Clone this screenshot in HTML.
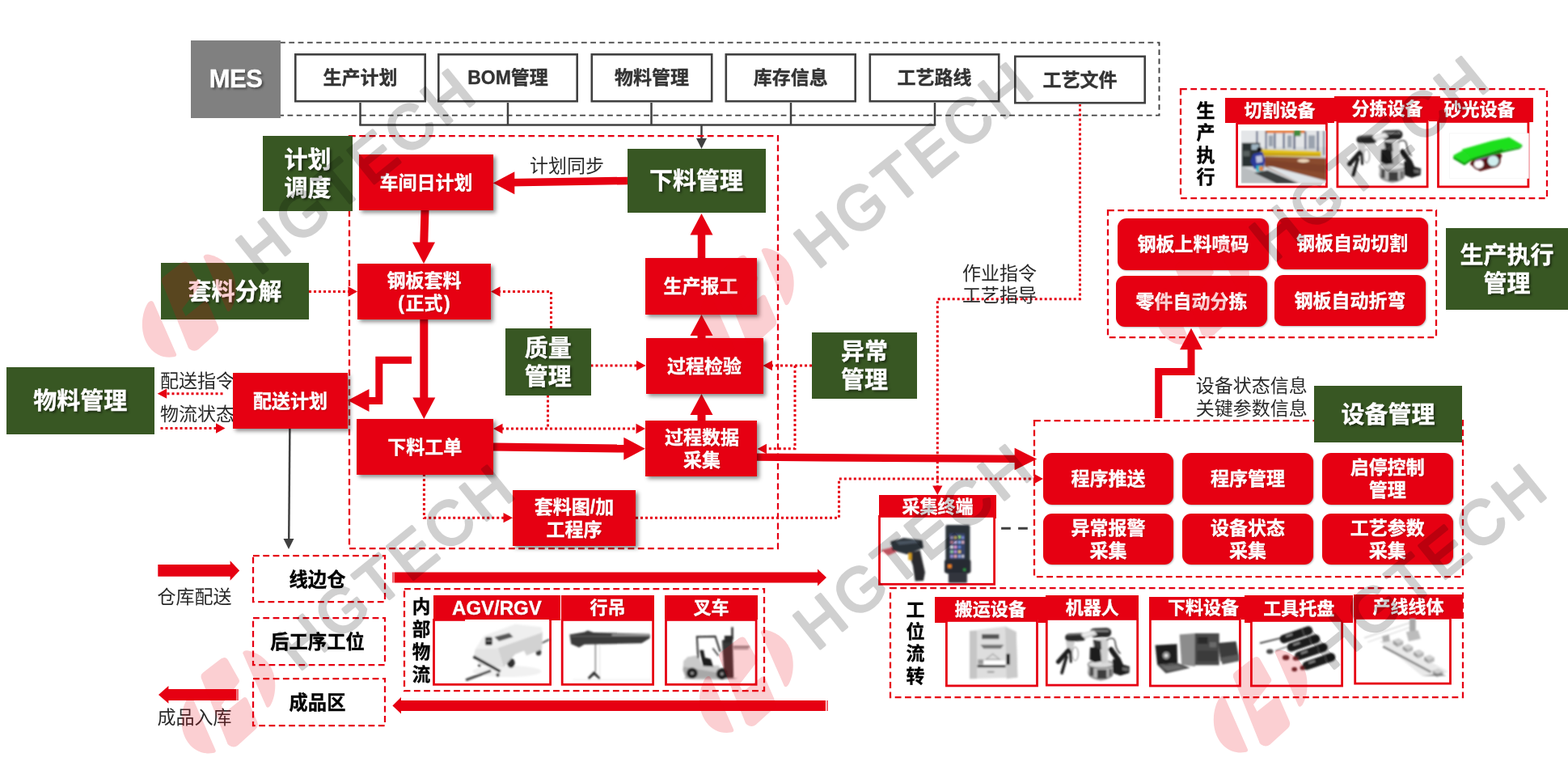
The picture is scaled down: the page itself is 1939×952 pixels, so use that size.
<!DOCTYPE html>
<html lang="zh-CN"><head><meta charset="utf-8"><title>MES 下料管理</title>
<style>
*{box-sizing:border-box;margin:0;padding:0}
html,body{width:1939px;height:952px;background:#fff;overflow:hidden}
body{font-family:"Liberation Sans","Noto Sans CJK SC",sans-serif;color:#333}
#stage{position:relative;width:1939px;height:952px;overflow:hidden;background:#fff}
.b span{display:block}
.b span span{display:inline}
.b,.v{-webkit-text-stroke:0.35px currentColor}
.b{position:absolute;display:flex;align-items:center;justify-content:center;text-align:center;font-weight:bold;white-space:nowrap}
.r{background:#E60012;color:#fff;font-size:23px;line-height:28px;box-shadow:3px 3px 5px rgba(0,0,0,.45);text-shadow:1px 1px 2px rgba(0,0,0,.22);padding-top:1px}
.rr{background:#E60012;color:#fff;font-size:23px;line-height:28px;border-radius:11px;box-shadow:1px 1px 2px rgba(0,0,0,.25);text-shadow:1px 1px 2px rgba(0,0,0,.22)}
.g{background:#385723;color:#fff;font-size:29px;line-height:35px;text-shadow:2px 2px 3px rgba(0,0,0,.55);padding-top:3px}
.w{background:#fff;color:#333;font-size:23px;padding-bottom:4px}
.d{color:#000;font-size:23.3px;background:transparent;padding:0 4px 2px 0}
.h{background:#E60012;color:#fff;font-size:22px;line-height:26px;padding-top:1px;text-shadow:1px 1px 2px rgba(0,0,0,.22)}
.f{position:absolute;background:#fff;overflow:hidden}
.t{position:absolute;white-space:nowrap;font-size:23px;line-height:27px;color:#2a2a2a}
.v{position:absolute;font-weight:bold;color:#000;font-size:23px;line-height:27px;text-align:center;width:24px}
svg{position:absolute;left:0;top:0}
</style></head>
<body><div id="stage">
<svg width="1939" height="952" viewBox="0 0 1939 952" style="z-index:1">
<rect x="346" y="52.6" width="1087.5" height="90.0" fill="none" stroke="#404040" stroke-width="1.9" stroke-dasharray="6.8 4.5"/>
<polyline points="445.5,125 445.5,154.5" fill="none" stroke="#404040" stroke-width="2.5" />
<polyline points="628,125 628,154.5" fill="none" stroke="#404040" stroke-width="2.5" />
<polyline points="805.5,125 805.5,154.5" fill="none" stroke="#404040" stroke-width="2.5" />
<polyline points="978,125 978,154.5" fill="none" stroke="#404040" stroke-width="2.5" />
<polyline points="1156,125 1156,154.5" fill="none" stroke="#404040" stroke-width="2.5" />
<polyline points="444.3,154.5 1157.2,154.5" fill="none" stroke="#404040" stroke-width="2.5" />
<polyline points="867.5,154.5 867.5,174" fill="none" stroke="#404040" stroke-width="2.5" />
<polygon points="867.5,184 861.0,171 874.0,171" fill="#404040"/>
<rect x="432" y="168" width="530" height="510" fill="none" stroke="#E60012" stroke-width="2.25" stroke-dasharray="7.8 4.5"/>
<polyline points="776,223.4 630,225.8" fill="none" stroke="#E60012" stroke-width="9.5" />
<polygon points="609.8,226.2 636.3,212.2 636.3,240.2" fill="#E60012"/>
<polyline points="525.5,259.5 524.2,302" fill="none" stroke="#E60012" stroke-width="10" />
<polygon points="524,326 510.0,299.5 538.0,299.5" fill="#E60012"/>
<polyline points="382,360.5 432,360.5" fill="none" stroke="#E60012" stroke-width="3" stroke-dasharray="3 3" />
<polygon points="442,360.5 430.5,354.35 430.5,366.65" fill="#E60012"/>
<polyline points="867.5,319 867.5,288" fill="none" stroke="#E60012" stroke-width="9.5" />
<polygon points="867.5,264 853.5,290.5 881.5,290.5" fill="#E60012"/>
<polygon points="867.5,389 853.5,415 881.5,415" fill="#E60012"/>
<polyline points="867.5,414 867.5,419" fill="none" stroke="#E60012" stroke-width="10" />
<polygon points="867.5,487 853.5,513 881.5,513" fill="#E60012"/>
<polyline points="867.5,512 867.5,521" fill="none" stroke="#E60012" stroke-width="10" />
<polyline points="681.5,406 681.5,360.5 617,360.5" fill="none" stroke="#E60012" stroke-width="3" stroke-dasharray="3 3" />
<polygon points="607,360.5 618.5,354.35 618.5,366.65" fill="#E60012"/>
<polyline points="730.5,452 788,452" fill="none" stroke="#E60012" stroke-width="3" stroke-dasharray="3 3" />
<polygon points="798.5,452 787.0,445.85 787.0,458.15" fill="#E60012"/>
<polyline points="1004,452 954,452" fill="none" stroke="#E60012" stroke-width="3" stroke-dasharray="3 3" />
<polygon points="943.5,452 955.0,445.85 955.0,458.15" fill="#E60012"/>
<polyline points="983,452 983,554.8 947,554.8" fill="none" stroke="#E60012" stroke-width="3" stroke-dasharray="3 3" />
<polygon points="936.5,555 948.0,548.85 948.0,561.15" fill="#E60012"/>
<polyline points="1335.5,128.5 1335.5,369.7 1159.3,369.7 1159.3,601" fill="none" stroke="#E60012" stroke-width="3" stroke-dasharray="3 3" />
<polygon points="1159.3,612 1153.15,600.5 1165.45,600.5" fill="#E60012"/>
<polyline points="275.5,486.7 205,486.7" fill="none" stroke="#E60012" stroke-width="3" stroke-dasharray="3 3" />
<polygon points="194.7,486.7 206.2,480.55 206.2,492.85" fill="#E60012"/>
<polyline points="198.5,529.5 268,529.5" fill="none" stroke="#E60012" stroke-width="3" stroke-dasharray="3 3" />
<polygon points="278.5,529.5 267.0,523.35 267.0,535.65" fill="#E60012"/>
<polyline points="509,445.3 468.8,445.3 468.8,495.5 455,495.5" fill="none" stroke="#E60012" stroke-width="9" />
<polygon points="430,495 456.5,481.0 456.5,509.0" fill="#E60012"/>
<polyline points="524.3,394.5 524.3,494" fill="none" stroke="#E60012" stroke-width="10" />
<polygon points="524.3,518 510.3,491.5 538.3,491.5" fill="#E60012"/>
<polyline points="610,552.5 775,554.6" fill="none" stroke="#E60012" stroke-width="10" />
<polygon points="797.8,554.8 771.3,540.8 771.3,568.8" fill="#E60012"/>
<polyline points="524.4,586 524.4,640.2 623,640.2" fill="none" stroke="#E60012" stroke-width="3" stroke-dasharray="3 3" />
<polygon points="634,640.2 622.5,634.05 622.5,646.35" fill="#E60012"/>
<polyline points="786,640.2 1037.5,640.2 1037.5,592 1279,592" fill="none" stroke="#E60012" stroke-width="3" stroke-dasharray="3 3" />
<polygon points="1290,592 1278.5,585.85 1278.5,598.15" fill="#E60012"/>
<polyline points="620,530 787,530" fill="none" stroke="#E60012" stroke-width="3" stroke-dasharray="3 3" />
<polygon points="610,530 621.5,523.85 621.5,536.15" fill="#E60012"/>
<polygon points="798,530 786.5,523.85 786.5,536.15" fill="#E60012"/>
<polyline points="677.5,488.5 677.5,530" fill="none" stroke="#E60012" stroke-width="3" stroke-dasharray="3 3" />
<polyline points="935,565.2 1258,567.4" fill="none" stroke="#E60012" stroke-width="9.3" />
<polygon points="1282.2,567.5 1254.6,553.7 1254.6,581.3" fill="#E60012"/>
<polyline points="358.4,529.5 357.2,668" fill="none" stroke="#404040" stroke-width="2.5" />
<polygon points="357,679 350.5,666 363.5,666" fill="#404040"/>
<rect x="313" y="687" width="163" height="57" fill="none" stroke="#E60012" stroke-width="2.25" stroke-dasharray="7.8 4.5"/>
<rect x="313" y="764" width="163" height="58" fill="none" stroke="#E60012" stroke-width="2.25" stroke-dasharray="7.8 4.5"/>
<rect x="313" y="839" width="163" height="58" fill="none" stroke="#E60012" stroke-width="2.25" stroke-dasharray="7.8 4.5"/>
<polygon points="195.3,698 284.6,698 284.6,693.2 296.2,705.4 284.6,717.7 284.6,712.7 195.3,712.7" fill="#E60012"/>
<polygon points="292.5,852 208.4,852 208.4,848 196,859 208.4,869.8 208.4,866 292.5,866" fill="#E60012"/>
<polyline points="294,852 294,866" fill="none" stroke="#E60012" stroke-width="1.2" />
<polygon points="487.5,707.4 1011,707.4 1011,703.5 1022,714 1011,724.5 1011,720.6 487.5,720.6" fill="#E60012"/>
<polyline points="486,707.4 486,720.6" fill="none" stroke="#E60012" stroke-width="1.2" />
<polygon points="1021,866 496,866 496,862 485.4,872.5 496,882.5 496,879 1021,879" fill="#E60012"/>
<polyline points="1023,866 1023,879" fill="none" stroke="#E60012" stroke-width="1.2" />
<rect x="500" y="728" width="445" height="126" fill="none" stroke="#E60012" stroke-width="2.25" stroke-dasharray="7.8 4.5"/>
<polyline points="1238.1,653.2 1271,653.2" fill="none" stroke="#404040" stroke-width="3" stroke-dasharray="11.7 9.3" />
<rect x="1279" y="520" width="530" height="193" fill="none" stroke="#E60012" stroke-width="2.25" stroke-dasharray="7.8 4.5"/>
<polyline points="1432.7,517 1432.7,459.6 1473,459.6 1473,428" fill="none" stroke="#E60012" stroke-width="9" />
<polygon points="1473,405.7 1459.0,432.2 1487.0,432.2" fill="#E60012"/>
<rect x="1370" y="260" width="406" height="157" fill="none" stroke="#E60012" stroke-width="2.25" stroke-dasharray="7.8 4.5"/>
<rect x="1460" y="110" width="453" height="135" fill="none" stroke="#E60012" stroke-width="2.25" stroke-dasharray="7.8 4.5"/>
<rect x="1101" y="727" width="708" height="135" fill="none" stroke="#E60012" stroke-width="2.25" stroke-dasharray="7.8 4.5"/>
</svg>
<div style="position:absolute;left:0;top:0;z-index:2;width:1939px;height:952px;will-change:transform">
<div class="b b" style="left:236px;top:50px;width:111px;height:95.5px;background:#808080;color:#fff;font-size:31px;letter-spacing:-0.5px;text-shadow:2px 2px 3px rgba(0,0,0,.5)"><span>MES</span></div>
<div class="b w" style="left:364px;top:66px;width:163px;height:60.5px;"><span>生产计划</span></div>
<div class="b w" style="left:541px;top:66px;width:174px;height:60.5px;"><span>BOM管理</span></div>
<div class="b w" style="left:730.5px;top:66px;width:151.0px;height:60.5px;"><span>物料管理</span></div>
<div class="b w" style="left:896.5px;top:66px;width:162.5px;height:60.5px;"><span>库存信息</span></div>
<div class="b w" style="left:1074.5px;top:66px;width:162.0px;height:60.5px;"><span>工艺路线</span></div>
<div class="b w" style="left:1254px;top:68.5px;width:163px;height:60.0px;"><span>工艺文件</span></div>
<div class="b g" style="left:325px;top:168px;width:111px;height:92.7px;"><span>计划<br>调度</span></div>
<div class="b r" style="left:444px;top:191px;width:166px;height:68.5px;"><span>车间日计划</span></div>
<div class="b g" style="left:775.5px;top:184px;width:171.0px;height:78.6px;"><span>下料管理</span></div>
<div class="t" style="left:655px;top:192px;">计划同步</div>
<div class="b r" style="left:442px;top:326px;width:165px;height:68.5px;"><span>钢板套料<br>(<span style="margin:0 1.5px">正式</span>)</span></div>
<div class="b g" style="left:199px;top:325px;width:183px;height:69.5px;"><span>套料分解</span></div>
<div class="b r" style="left:797.5px;top:319px;width:138.0px;height:69.7px;"><span>生产报工</span></div>
<div class="b r" style="left:798.5px;top:418px;width:145.0px;height:69px;"><span>过程检验</span></div>
<div class="b g" style="left:625px;top:406px;width:105.5px;height:82.5px;"><span>质量<br>管理</span></div>
<div class="b g" style="left:1004px;top:411px;width:130px;height:81.5px;"><span>异常<br>管理</span></div>
<div class="t" style="left:1190px;top:325px;">作业指令<br>工艺指导</div>
<div class="b g" style="left:8px;top:454px;width:182.5px;height:82.5px;"><span>物料管理</span></div>
<div class="t" style="left:198px;top:457.5px;">配送指令</div>
<div class="t" style="left:198px;top:498.5px;">物流状态</div>
<div class="b r" style="left:288px;top:461px;width:142px;height:68.5px;"><span>配送计划</span></div>
<div class="b r" style="left:440.6px;top:517.8px;width:169.4px;height:68.8px;"><span>下料工单</span></div>
<div class="b r" style="left:798px;top:520.2px;width:138px;height:68.4px;padding-left:2px"><span>过程数据<br>采集</span></div>
<div class="b r" style="left:634px;top:606px;width:152px;height:69px;"><span>套料图/加<br>工程序</span></div>
<div class="b d" style="left:313px;top:687px;width:163px;height:57px;"><span>线边仓</span></div>
<div class="b d" style="left:313px;top:764px;width:163px;height:58px;"><span>后工序工位</span></div>
<div class="b d" style="left:313px;top:839px;width:163px;height:58px;"><span>成品区</span></div>
<div class="t" style="left:194.5px;top:725.3px;">仓库配送</div>
<div class="t" style="left:194.5px;top:874.3px;">成品入库</div>
<div class="v" style="left:509px;top:737.2px;line-height:28.1px;font-size:22.5px">内<br>部<br>物<br>流</div>
<div class="b h" style="left:535.9px;top:735.6px;width:157.1px;height:31.7px;font-size:24px"><span>AGV/RGV</span></div>
<div class="b h" style="left:693.8px;top:735.6px;width:115.2px;height:30.9px;"><span>行吊</span></div>
<div class="b h" style="left:822.1px;top:735.6px;width:114.9px;height:30.9px;"><span>叉车</span></div>
<div class="f" style="left:535.1px;top:765px;width:146.9px;height:82.7px"></div>
<div class="f" style="left:693.8px;top:765px;width:115.2px;height:82.7px"></div>
<div class="f" style="left:822.1px;top:765px;width:114.4px;height:82.7px"></div>
<div class="b h" style="left:1087.1px;top:612.1px;width:144.9px;height:29.3px;"><span>采集终端</span></div>
<div class="f" style="left:1086.1px;top:637px;width:144.9px;height:86.7px"></div>
<div class="b g" style="left:1625px;top:477px;width:183px;height:69.5px;"><span>设备管理</span></div>
<div class="t" style="left:1478.7px;top:462.6px;line-height:28.4px">设备状态信息<br>关键参数信息</div>
<div class="b rr" style="left:1290px;top:560px;width:161px;height:64px;"><span>程序推送</span></div>
<div class="b rr" style="left:1462px;top:560px;width:162px;height:64px;"><span>程序管理</span></div>
<div class="b rr" style="left:1635px;top:560px;width:161.5px;height:64px;"><span>启停控制<br>管理</span></div>
<div class="b rr" style="left:1290px;top:635px;width:161px;height:63px;"><span>异常报警<br>采集</span></div>
<div class="b rr" style="left:1462px;top:635px;width:162px;height:63px;"><span>设备状态<br>采集</span></div>
<div class="b rr" style="left:1635px;top:635px;width:161.5px;height:63px;"><span>工艺参数<br>采集</span></div>
<div class="b rr" style="left:1382px;top:270px;width:187px;height:63.5px;"><span>钢板上料喷码</span></div>
<div class="b rr" style="left:1578.5px;top:269px;width:187.0px;height:63.5px;"><span>钢板自动切割</span></div>
<div class="b rr" style="left:1380px;top:341px;width:187px;height:63px;"><span>零件自动分拣</span></div>
<div class="b rr" style="left:1576px;top:340px;width:187px;height:63px;"><span>钢板自动折弯</span></div>
<div class="b g" style="left:1788px;top:282px;width:151px;height:100.5px;"><span>生产执行<br>管理</span></div>
<div class="v" style="left:1479px;top:123.7px;line-height:27.6px">生<br>产<br>执<br>行</div>
<div class="b h" style="left:1515px;top:121.2px;width:135px;height:31.1px;"><span>切割设备</span></div>
<div class="b h" style="left:1650px;top:119px;width:131px;height:31px;"><span>分拣设备</span></div>
<div class="b h" style="left:1781px;top:120.9px;width:115px;height:29.7px;padding-right:18px"><span>砂光设备</span></div>
<div class="f" style="left:1528.2px;top:151px;width:113.6px;height:81.3px"></div>
<div class="f" style="left:1652.5px;top:149px;width:114.0px;height:83.3px"></div>
<div class="f" style="left:1777.1px;top:149px;width:114.2px;height:83.3px"></div>
<div class="v" style="left:1120px;top:740.5px;line-height:27.4px">工<br>位<br>流<br>转</div>
<div class="b h" style="left:1156.3px;top:737.9px;width:137.0px;height:32.0px;"><span>搬运设备</span></div>
<div class="b h" style="left:1293.3px;top:735.8px;width:114.8px;height:31.0px;"><span>机器人</span></div>
<div class="b h" style="left:1421px;top:738px;width:118px;height:27.5px;padding-left:16px"><span>下料设备</span></div>
<div class="b h" style="left:1539px;top:735.9px;width:134.3px;height:33.8px;"><span>工具托盘</span></div>
<div class="b h" style="left:1674.3px;top:734.8px;width:134.3px;height:30.7px;"><span>产线线体</span></div>
<div class="f" style="left:1169px;top:766px;width:114.9px;height:83.3px"></div>
<div class="f" style="left:1292.9px;top:764px;width:115.2px;height:84.5px"></div>
<div class="f" style="left:1421px;top:764px;width:113.8px;height:85.4px"></div>
<div class="f" style="left:1546px;top:766px;width:115px;height:83.4px"></div>
<div class="f" style="left:1674.3px;top:763px;width:120.6px;height:83.5px"></div>
</div>
<svg width="1939" height="952" viewBox="0 0 1939 952" style="z-index:3">
<defs><filter id="bl" filterUnits="userSpaceOnUse" x="0" y="0" width="1939" height="952"><feGaussianBlur stdDeviation="0.8"/></filter></defs>
<rect x="365.3" y="67.3" width="160.4" height="57.9" fill="none" stroke="#404040" stroke-width="2.6"/>
<rect x="542.3" y="67.3" width="171.4" height="57.9" fill="none" stroke="#404040" stroke-width="2.6"/>
<rect x="731.8" y="67.3" width="148.4" height="57.9" fill="none" stroke="#404040" stroke-width="2.6"/>
<rect x="897.8" y="67.3" width="159.9" height="57.9" fill="none" stroke="#404040" stroke-width="2.6"/>
<rect x="1075.8" y="67.3" width="159.4" height="57.9" fill="none" stroke="#404040" stroke-width="2.6"/>
<rect x="1255.3" y="69.8" width="160.4" height="57.4" fill="none" stroke="#404040" stroke-width="2.6"/>
<rect x="536.5" y="766.4" width="144.1" height="79.9" fill="none" stroke="#E60012" stroke-width="2.8"/>
<rect x="695.1999999999999" y="766.4" width="112.4" height="79.9" fill="none" stroke="#E60012" stroke-width="2.8"/>
<rect x="823.5" y="766.4" width="111.6" height="79.9" fill="none" stroke="#E60012" stroke-width="2.8"/>
<rect x="1087.5" y="638.4" width="142.1" height="83.9" fill="none" stroke="#E60012" stroke-width="2.8"/>
<rect x="1529.6000000000001" y="152.4" width="110.8" height="78.5" fill="none" stroke="#E60012" stroke-width="2.8"/>
<rect x="1653.9" y="150.4" width="111.2" height="80.5" fill="none" stroke="#E60012" stroke-width="2.8"/>
<rect x="1778.5" y="150.4" width="111.4" height="80.5" fill="none" stroke="#E60012" stroke-width="2.8"/>
<rect x="1170.4" y="767.4" width="112.1" height="80.5" fill="none" stroke="#E60012" stroke-width="2.8"/>
<rect x="1294.3000000000002" y="765.4" width="112.4" height="81.7" fill="none" stroke="#E60012" stroke-width="2.8"/>
<rect x="1422.4" y="765.4" width="111.0" height="82.6" fill="none" stroke="#E60012" stroke-width="2.8"/>
<rect x="1547.4" y="767.4" width="112.2" height="80.6" fill="none" stroke="#E60012" stroke-width="2.8"/>
<rect x="1675.7" y="764.4" width="117.8" height="80.7" fill="none" stroke="#E60012" stroke-width="2.8"/>
<g filter="url(#bl)"><g transform="translate(1660,150) scale(0.08929)">
<path d="M510,610 L510,740 Q520,830 690,850 Q860,830 870,740 L870,610 Z" fill="#b9b9b9"/>
<path d="M510,700 Q520,800 690,815 Q860,800 870,700 L870,740 Q860,830 690,850 Q520,830 510,740Z" fill="#9a9a9a"/>
<rect x="535" y="665" width="55" height="120" fill="#4c4c4c"/><rect x="640" y="700" width="130" height="125" fill="#3e3e3e"/><rect x="800" y="690" width="45" height="100" fill="#6a6a6a"/>
<ellipse cx="690" cy="610" rx="180" ry="52" fill="#dcdcdc"/>
<ellipse cx="690" cy="628" rx="180" ry="52" fill="none" stroke="#707070" stroke-width="12"/>
<polygon points="575,300 700,255 795,275 790,600 690,625 575,600" fill="#e4e4e4"/>
<polygon points="690,280 790,275 780,600 700,620" fill="#cfcfcf"/>
<polygon points="540,395 680,365 700,585 600,600 535,560" fill="#1a1a1a"/>
<polygon points="580,285 690,300 700,420 600,385" fill="#353535"/>
<path d="M600,190 L770,185" stroke="#2a2a2a" stroke-width="130" stroke-linecap="round" fill="none"/>
<path d="M250,255 L430,245" stroke="#2c2c2c" stroke-width="110" stroke-linecap="round" fill="none"/>
<polygon points="400,200 600,150 640,215 470,275" fill="#d6d6d6"/>
<polygon points="420,215 600,170 610,190 440,240" fill="#f0f0f0"/>
<path d="M600,165 L790,165" stroke="#8c8c8c" stroke-width="22" stroke-linecap="round" fill="none"/>
<path d="M230,215 L420,205" stroke="#7a7a7a" stroke-width="18" stroke-linecap="round" fill="none"/>
<polygon points="205,300 330,310 300,430 225,430" fill="#cdcdcd"/>
<path d="M240,430 L100,590" stroke="#1a1a1a" stroke-width="60" stroke-linecap="round" fill="none"/>
<path d="M215,520 L150,745" stroke="#1a1a1a" stroke-width="42" stroke-linecap="round" fill="none"/>
<path d="M265,440 L275,590" stroke="#222" stroke-width="34" stroke-linecap="round" fill="none"/>
<ellipse cx="335" cy="480" rx="42" ry="95" fill="none" stroke="#7a7a7a" stroke-width="11"/>
<path d="M770,290 Q880,220 892,340 Q900,420 960,480" fill="none" stroke="#2a2a2a" stroke-width="16"/>
<path d="M830,420 L930,560" stroke="#1c1c1c" stroke-width="70" stroke-linecap="round" fill="none"/>
<polygon points="850,560 960,540 1000,630 1088,655 1082,745 960,782 858,745" fill="#1a1a1a"/>
<polygon points="985,665 1072,675 1062,722 992,712" fill="#6a6a6a"/>
</g></g>
<g filter="url(#bl)"><g transform="translate(-360.30,615.50)"><g transform="translate(1660,150) scale(0.08929)">
<path d="M510,610 L510,740 Q520,830 690,850 Q860,830 870,740 L870,610 Z" fill="#b9b9b9"/>
<path d="M510,700 Q520,800 690,815 Q860,800 870,700 L870,740 Q860,830 690,850 Q520,830 510,740Z" fill="#9a9a9a"/>
<rect x="535" y="665" width="55" height="120" fill="#4c4c4c"/><rect x="640" y="700" width="130" height="125" fill="#3e3e3e"/><rect x="800" y="690" width="45" height="100" fill="#6a6a6a"/>
<ellipse cx="690" cy="610" rx="180" ry="52" fill="#dcdcdc"/>
<ellipse cx="690" cy="628" rx="180" ry="52" fill="none" stroke="#707070" stroke-width="12"/>
<polygon points="575,300 700,255 795,275 790,600 690,625 575,600" fill="#e4e4e4"/>
<polygon points="690,280 790,275 780,600 700,620" fill="#cfcfcf"/>
<polygon points="540,395 680,365 700,585 600,600 535,560" fill="#1a1a1a"/>
<polygon points="580,285 690,300 700,420 600,385" fill="#353535"/>
<path d="M600,190 L770,185" stroke="#2a2a2a" stroke-width="130" stroke-linecap="round" fill="none"/>
<path d="M250,255 L430,245" stroke="#2c2c2c" stroke-width="110" stroke-linecap="round" fill="none"/>
<polygon points="400,200 600,150 640,215 470,275" fill="#d6d6d6"/>
<polygon points="420,215 600,170 610,190 440,240" fill="#f0f0f0"/>
<path d="M600,165 L790,165" stroke="#8c8c8c" stroke-width="22" stroke-linecap="round" fill="none"/>
<path d="M230,215 L420,205" stroke="#7a7a7a" stroke-width="18" stroke-linecap="round" fill="none"/>
<polygon points="205,300 330,310 300,430 225,430" fill="#cdcdcd"/>
<path d="M240,430 L100,590" stroke="#1a1a1a" stroke-width="60" stroke-linecap="round" fill="none"/>
<path d="M215,520 L150,745" stroke="#1a1a1a" stroke-width="42" stroke-linecap="round" fill="none"/>
<path d="M265,440 L275,590" stroke="#222" stroke-width="34" stroke-linecap="round" fill="none"/>
<ellipse cx="335" cy="480" rx="42" ry="95" fill="none" stroke="#7a7a7a" stroke-width="11"/>
<path d="M770,290 Q880,220 892,340 Q900,420 960,480" fill="none" stroke="#2a2a2a" stroke-width="16"/>
<path d="M830,420 L930,560" stroke="#1c1c1c" stroke-width="70" stroke-linecap="round" fill="none"/>
<polygon points="850,560 960,540 1000,630 1088,655 1082,745 960,782 858,745" fill="#1a1a1a"/>
<polygon points="985,665 1072,675 1062,722 992,712" fill="#6a6a6a"/>
</g></g></g>
<g><g transform="translate(1770,110) scale(0.13661)"><rect x="165" y="402" width="716" height="408" fill="#fff" stroke="#f3f3f3" stroke-width="5"/></g></g>
<g filter="url(#bl)"><g transform="translate(1770,110) scale(0.13661)">
<polygon points="380,620 600,560 640,600 600,700 440,745 350,680" fill="#5a1414"/>
<ellipse cx="560" cy="650" rx="50" ry="48" fill="#cfeeee"/>
<ellipse cx="560" cy="650" rx="60" ry="55" fill="none" stroke="#4a1010" stroke-width="14"/>
<ellipse cx="430" cy="680" rx="50" ry="45" fill="#fff" stroke="#5a1414" stroke-width="14"/>
<polygon points="390,625 600,560 615,585 410,655" fill="#a23aa8"/>
<polygon points="200,600 285,555 375,622 300,690 200,632" fill="#21de21"/>
<polygon points="200,632 300,690 375,640 375,622 300,672 200,615" fill="#0c8c0c"/>
<polygon points="275,548 545,470 705,438 822,505 800,528 650,558 640,540 365,632" fill="#1fe01f"/>
<polygon points="365,632 640,540 650,558 800,528 822,505 822,520 800,542 650,574 375,650" fill="#0d930d"/>
</g></g>
<g><g transform="translate(495,725) scale(0.14184)"><rect x="565" y="289" width="733" height="20" fill="#fff"/></g></g>
<g filter="url(#bl)"><g transform="translate(495,725) scale(0.14184)">
<line x1="1225" y1="498" x2="1300" y2="462" stroke="#484848" stroke-width="14"/>
<ellipse cx="930" cy="740" rx="300" ry="50" fill="#f1f1f1"/>
<line x1="572" y1="816" x2="790" y2="735" stroke="#484848" stroke-width="24"/>
<ellipse cx="965" cy="668" rx="34" ry="42" fill="#2e2e2e"/><ellipse cx="1205" cy="572" rx="24" ry="30" fill="#3c3c3c"/><ellipse cx="850" cy="772" rx="16" ry="16" fill="#444"/><ellipse cx="690" cy="690" rx="14" ry="14" fill="#444"/>
<polygon points="850,535 1240,400 1235,548 1100,602 1080,560 1000,592 960,640 900,705" fill="#d2d2d2"/>
<polygon points="655,545 850,535 900,705 700,690 640,612" fill="#e3e3e3"/>
<polygon points="730,430 1000,330 1230,355 1240,400 850,535 655,545" fill="#efefef"/>
<polygon points="820,440 950,405 985,440 860,478" fill="#585858"/>
<line x1="638" y1="612" x2="872" y2="742" stroke="#262626" stroke-width="24"/>
<rect x="740" y="442" width="62" height="70" rx="12" fill="#202020"/>
<rect x="745" y="468" width="52" height="12" fill="#8a8a8a"/>
</g></g>
<g filter="url(#bl)"><g transform="translate(680,725) scale(0.14184)">
<polygon points="172,420 300,398 330,385 380,402 870,414 872,452 800,496 300,506 255,532 185,502" fill="#3a3a3a"/>
<rect x="540" y="418" width="325" height="12" fill="#a8a8a8"/>
<rect x="180" y="430" width="690" height="10" fill="#5c5c5c"/>
<line x1="397" y1="500" x2="397" y2="745" stroke="#4a4a4a" stroke-width="7"/>
<line x1="435" y1="500" x2="435" y2="805" stroke="#b4b4b4" stroke-width="3"/>
<polygon points="330,795 385,738 438,795 432,812 385,772 342,812" fill="#333"/>
<line x1="200" y1="813" x2="885" y2="813" stroke="#d0d0d0" stroke-width="3"/>
</g></g>
<g filter="url(#bl)"><g transform="translate(680,725) scale(0.14184)">
<ellipse cx="1400" cy="802" rx="235" ry="12" fill="#c4c4c4"/>
<polygon points="1165,650 1200,615 1295,600 1330,690 1475,690 1505,800 1185,800 1160,720" fill="#cacaca"/>
<polygon points="1165,700 1505,760 1505,800 1185,800 1160,730" fill="#a8a8a8"/>
<polyline points="1292,625 1282,440 1442,436 1485,570" fill="none" stroke="#303030" stroke-width="15"/>
<polygon points="1305,555 1340,555 1352,620 1402,632 1425,700 1335,692" fill="#1e1e1e"/>
<line x1="1420" y1="540" x2="1470" y2="605" stroke="#222" stroke-width="11"/>
<polygon points="1500,470 1592,440 1602,800 1522,800" fill="#383838"/>
<rect x="1580" y="355" width="20" height="110" fill="#404040"/>
<rect x="1522" y="430" width="70" height="60" fill="#2a2a2a"/>
<rect x="1600" y="520" width="140" height="12" fill="#555"/><rect x="1600" y="540" width="130" height="9" fill="#7c7c7c"/>
<circle cx="1240" cy="756" r="48" fill="#222"/><circle cx="1240" cy="756" r="13" fill="#999"/>
<circle cx="1500" cy="762" r="50" fill="#222"/><circle cx="1500" cy="762" r="13" fill="#999"/>
</g></g>
<g filter="url(#bl)"><g transform="translate(1075,600) scale(0.14184)">
<polygon points="100,565 250,528 268,565 165,612" fill="#e84a5c" opacity=".85"/>
<polygon points="185,490 300,458 460,480 472,545 330,602 200,566" fill="#2c3137"/>
<polygon points="230,490 400,478 440,500 260,520" fill="#4a5560"/>
<polygon points="340,590 442,565 486,760 472,832 400,836 380,700" fill="#292b2d"/>
<rect x="340" y="590" width="30" height="62" fill="#d8a020"/>
<rect x="665" y="345" width="212" height="425" rx="16" fill="#2b3037"/>
<rect x="690" y="750" width="162" height="102" rx="8" fill="#30353c"/>
<rect x="655" y="650" width="230" height="112" rx="12" fill="#262a30"/>
<rect x="698" y="420" width="134" height="222" fill="#39456a"/>
<g fill="#c8b8e8"><rect x="708" y="445" width="22" height="22"/><rect x="740" y="445" width="22" height="22" fill="#e8d06a"/><rect x="775" y="440" width="22" height="22" fill="#a0e070"/><rect x="806" y="445" width="18" height="22" fill="#8a9ae8"/>
<rect x="708" y="485" width="22" height="22" fill="#f0a0b0"/><rect x="740" y="485" width="22" height="22"/><rect x="775" y="485" width="22" height="22" fill="#8ab0f0"/><rect x="806" y="485" width="18" height="22" fill="#f0c0d0"/>
<rect x="708" y="527" width="22" height="22" fill="#f4f4f4"/><rect x="740" y="527" width="22" height="22" fill="#e8a0e0"/><rect x="775" y="527" width="22" height="22" fill="#6a8ae0"/>
<rect x="708" y="568" width="22" height="22" fill="#a0e0b0"/><rect x="740" y="568" width="22" height="22" fill="#c090f0"/><rect x="775" y="568" width="22" height="22" fill="#f0d080"/>
<rect x="708" y="608" width="22" height="22" fill="#b0a0f0"/><rect x="740" y="608" width="22" height="22" fill="#f0b0c0"/><rect x="775" y="608" width="22" height="22" fill="#9ab0f0"/><rect x="806" y="608" width="18" height="22" fill="#e0e0f0"/></g>
<rect x="685" y="690" width="32" height="32" fill="#f08424"/><rect x="820" y="726" width="20" height="20" fill="#2fa044"/>
</g></g>
<g filter="url(#bl)"><g transform="translate(1095,720) scale(0.17018)">
<polygon points="612,352 870,320 950,360 960,690 612,700" fill="#dedede"/>
<polygon points="870,320 950,360 960,690 880,700" fill="#cbcbcb"/>
<rect x="612" y="352" width="52" height="348" fill="#c6c6c6"/>
<rect x="700" y="376" width="126" height="36" fill="#555"/>
<polygon points="690,452 860,452 838,482 712,482" fill="#767676"/>
<polygon points="730,560 780,520 830,560" fill="none" stroke="#aaa" stroke-width="8"/>
<rect x="700" y="568" width="172" height="32" fill="#fff"/>
<rect x="668" y="600" width="204" height="18" fill="#2e2e2e"/>
<rect x="672" y="560" width="40" height="36" fill="#9a9a9a"/>
<rect x="878" y="520" width="26" height="78" fill="#1e1e1e"/>
<rect x="740" y="645" width="50" height="12" fill="#999"/>
</g></g>
<g filter="url(#bl)"><g transform="translate(1410,720) scale(0.21146)">
<polygon points="230,305 322,298 322,492 242,482" fill="#8c8c8c"/>
<rect x="320" y="298" width="142" height="186" fill="#484848"/>
<rect x="335" y="320" width="60" height="40" fill="#2a2a2a"/><rect x="405" y="350" width="40" height="30" fill="#6a6a6a"/><rect x="335" y="400" width="115" height="60" fill="#3a3a3a"/>
<polygon points="458,355 560,345 578,440 470,462" fill="#3a3a3a"/>
<polygon points="470,440 578,420 580,460 480,480" fill="#5a5a5a"/>
<polygon points="88,368 215,360 218,472 100,482" fill="#1e1e1e"/>
<circle cx="152" cy="428" r="22" fill="#8c8c8c"/><circle cx="152" cy="428" r="9" fill="#eee"/>
<polygon points="100,482 218,472 292,500 150,532" fill="#484848"/>
<polygon points="120,490 215,482 265,500 160,518" fill="#6a6a6a"/>
</g></g>
<g filter="url(#bl)"><g transform="translate(1410,720) scale(0.21146)"><line x1="700" y1="356" x2="835" y2="322" stroke="#4a4a4a" stroke-width="9"/><line x1="790" y1="400" x2="870" y2="372" stroke="#666" stroke-width="6"/><g transform="translate(912,306) rotate(-19)"><rect x="-100" y="-25" width="200" height="50" rx="24" fill="#1c1c1c"/><rect x="-60" y="-14" width="40" height="10" fill="#8a8a8a"/><rect x="40" y="-25" width="8" height="50" fill="#4a4a4a"/></g><g transform="translate(955,355) rotate(-19)"><rect x="-100" y="-25" width="200" height="50" rx="24" fill="#1c1c1c"/><rect x="-60" y="-14" width="40" height="10" fill="#8a8a8a"/><rect x="40" y="-25" width="8" height="50" fill="#4a4a4a"/></g><g transform="translate(1000,405) rotate(-19)"><rect x="-100" y="-25" width="200" height="50" rx="24" fill="#1c1c1c"/><rect x="-60" y="-14" width="40" height="10" fill="#8a8a8a"/><rect x="40" y="-25" width="8" height="50" fill="#4a4a4a"/></g><g transform="translate(1045,462) rotate(-19)"><rect x="-100" y="-25" width="200" height="50" rx="24" fill="#1c1c1c"/><rect x="-60" y="-14" width="40" height="10" fill="#8a8a8a"/><rect x="40" y="-25" width="8" height="50" fill="#4a4a4a"/></g><ellipse cx="758" cy="404" rx="20" ry="14" fill="#484848"/><ellipse cx="852" cy="440" rx="20" ry="15" fill="#562a2a"/><ellipse cx="910" cy="445" rx="18" ry="13" fill="#562a2a"/><ellipse cx="902" cy="508" rx="16" ry="13" fill="#562a2a"/><ellipse cx="950" cy="500" rx="16" ry="13" fill="#4a2222"/></g></g>
<g filter="url(#bl)"><g transform="translate(1410,720) scale(0.21146)"><polygon points="1400,345 1450,330 1800,520 1760,548 1650,548" fill="#e9e9e9"/><line x1="1420" y1="375" x2="1700" y2="525" stroke="#8e8e8e" stroke-width="14"/><line x1="1310" y1="325" x2="1610" y2="225" stroke="#d4d4d4" stroke-width="7"/><line x1="1330" y1="350" x2="1580" y2="262" stroke="#dcdcdc" stroke-width="6"/><rect x="1575" y="212" width="36" height="76" fill="#a8a8a8"/><polygon points="1555,290 1625,280 1640,330 1570,345" fill="#bcbcbc"/><polygon points="1415,315 1455,305 1460,345 1420,350" fill="#b0b0b0"/><polygon points="1478,338 1512,326 1538,342 1504,356" fill="#d0d0d0"/><polygon points="1478,338 1504,356 1504,378 1478,360" fill="#9c9c9c"/><polygon points="1504,356 1538,342 1538,364 1504,378" fill="#b4b4b4"/><polygon points="1535,372 1569,360 1595,376 1561,390" fill="#d0d0d0"/><polygon points="1535,372 1561,390 1561,412 1535,394" fill="#9c9c9c"/><polygon points="1561,390 1595,376 1595,398 1561,412" fill="#b4b4b4"/><polygon points="1598,404 1632,392 1658,408 1624,422" fill="#d0d0d0"/><polygon points="1598,404 1624,422 1624,444 1598,426" fill="#9c9c9c"/><polygon points="1624,422 1658,408 1658,430 1624,444" fill="#b4b4b4"/><polygon points="1660,435 1694,423 1720,439 1686,453" fill="#d0d0d0"/><polygon points="1660,435 1686,453 1686,475 1660,457" fill="#9c9c9c"/><polygon points="1686,453 1720,439 1720,461 1686,475" fill="#b4b4b4"/><polygon points="1710,515 1744,503 1770,519 1736,533" fill="#d0d0d0"/><polygon points="1710,515 1736,533 1736,555 1710,537" fill="#9c9c9c"/><polygon points="1736,533 1770,519 1770,541 1736,555" fill="#b4b4b4"/><polygon points="1650,548 1760,530 1790,548" fill="#5a5a5a" opacity=".5"/></g></g>
</svg>
<svg width="1939" height="952" viewBox="0 0 1939 952" style="z-index:5;pointer-events:none">
<g transform="translate(233.6,378.8)"><g fill="#E60012" opacity="0.19"><path d="M-43.5,-4.5 L-16,58 Q-14,62 -19,62.5 C-42,66 -58,46 -57.7,22 C-57.5,10 -54,0 -50,-5 Q-46,-9 -43.5,-4.5Z"/><path d="M-33,-29 Q-35,-34 -31,-37 L-9,-54 Q-3,-58 0,-52 L13,-29 Q15,-26 12,-23 L-8.5,3.5 L-4,12.3 L18,-5.2 Q22,-8.3 24,-3.5 L36,24 Q38,29 34,33 L12,53 Q7,57 1,53 Q-1,52 -2,48Z"/><path d="M18,-61 L47,5 Q49,8 52,4 C58,-6 60,-22 56,-36 C52,-50 40,-61 25,-64 Q19,-65 18,-61Z"/></g><g transform="rotate(-38.9)" opacity="0.185"><text x="91" y="25.5" font-family="Liberation Sans, sans-serif" font-size="76" letter-spacing="5.4" fill="#000" stroke="#000" stroke-width="3.5" stroke-linejoin="round" stroke-linecap="round">HGTECH</text></g></g>
<g transform="translate(923.6,371)"><g fill="#E60012" opacity="0.19"><path d="M-43.5,-4.5 L-16,58 Q-14,62 -19,62.5 C-42,66 -58,46 -57.7,22 C-57.5,10 -54,0 -50,-5 Q-46,-9 -43.5,-4.5Z"/><path d="M-33,-29 Q-35,-34 -31,-37 L-9,-54 Q-3,-58 0,-52 L13,-29 Q15,-26 12,-23 L-8.5,3.5 L-4,12.3 L18,-5.2 Q22,-8.3 24,-3.5 L36,24 Q38,29 34,33 L12,53 Q7,57 1,53 Q-1,52 -2,48Z"/><path d="M18,-61 L47,5 Q49,8 52,4 C58,-6 60,-22 56,-36 C52,-50 40,-61 25,-64 Q19,-65 18,-61Z"/></g><g transform="rotate(-38.9)" opacity="0.185"><text x="91" y="25.5" font-family="Liberation Sans, sans-serif" font-size="76" letter-spacing="5.4" fill="#000" stroke="#000" stroke-width="3.5" stroke-linejoin="round" stroke-linecap="round">HGTECH</text></g></g>
<g transform="translate(1487,363)"><g fill="#E60012" opacity="0.19"><path d="M-43.5,-4.5 L-16,58 Q-14,62 -19,62.5 C-42,66 -58,46 -57.7,22 C-57.5,10 -54,0 -50,-5 Q-46,-9 -43.5,-4.5Z"/><path d="M-33,-29 Q-35,-34 -31,-37 L-9,-54 Q-3,-58 0,-52 L13,-29 Q15,-26 12,-23 L-8.5,3.5 L-4,12.3 L18,-5.2 Q22,-8.3 24,-3.5 L36,24 Q38,29 34,33 L12,53 Q7,57 1,53 Q-1,52 -2,48Z"/><path d="M18,-61 L47,5 Q49,8 52,4 C58,-6 60,-22 56,-36 C52,-50 40,-61 25,-64 Q19,-65 18,-61Z"/></g><g transform="rotate(-38.9)" opacity="0.185"><text x="91" y="25.5" font-family="Liberation Sans, sans-serif" font-size="76" letter-spacing="5.4" fill="#000" stroke="#000" stroke-width="3.5" stroke-linejoin="round" stroke-linecap="round">HGTECH</text></g></g>
<g transform="translate(282.2,868.5)"><g fill="#E60012" opacity="0.19"><path d="M-43.5,-4.5 L-16,58 Q-14,62 -19,62.5 C-42,66 -58,46 -57.7,22 C-57.5,10 -54,0 -50,-5 Q-46,-9 -43.5,-4.5Z"/><path d="M-33,-29 Q-35,-34 -31,-37 L-9,-54 Q-3,-58 0,-52 L13,-29 Q15,-26 12,-23 L-8.5,3.5 L-4,12.3 L18,-5.2 Q22,-8.3 24,-3.5 L36,24 Q38,29 34,33 L12,53 Q7,57 1,53 Q-1,52 -2,48Z"/><path d="M18,-61 L47,5 Q49,8 52,4 C58,-6 60,-22 56,-36 C52,-50 40,-61 25,-64 Q19,-65 18,-61Z"/></g><g transform="rotate(-38.9)" opacity="0.185"><text x="91" y="25.5" font-family="Liberation Sans, sans-serif" font-size="76" letter-spacing="5.4" fill="#000" stroke="#000" stroke-width="3.5" stroke-linejoin="round" stroke-linecap="round">HGTECH</text></g></g>
<g transform="translate(922.7,843)"><g fill="#E60012" opacity="0.19"><path d="M-43.5,-4.5 L-16,58 Q-14,62 -19,62.5 C-42,66 -58,46 -57.7,22 C-57.5,10 -54,0 -50,-5 Q-46,-9 -43.5,-4.5Z"/><path d="M-33,-29 Q-35,-34 -31,-37 L-9,-54 Q-3,-58 0,-52 L13,-29 Q15,-26 12,-23 L-8.5,3.5 L-4,12.3 L18,-5.2 Q22,-8.3 24,-3.5 L36,24 Q38,29 34,33 L12,53 Q7,57 1,53 Q-1,52 -2,48Z"/><path d="M18,-61 L47,5 Q49,8 52,4 C58,-6 60,-22 56,-36 C52,-50 40,-61 25,-64 Q19,-65 18,-61Z"/></g><g transform="rotate(-38.9)" opacity="0.185"><text x="91" y="25.5" font-family="Liberation Sans, sans-serif" font-size="76" letter-spacing="5.4" fill="#000" stroke="#000" stroke-width="3.5" stroke-linejoin="round" stroke-linecap="round">HGTECH</text></g></g>
<g transform="translate(1558.5,867.5)"><g fill="#E60012" opacity="0.19"><path d="M-43.5,-4.5 L-16,58 Q-14,62 -19,62.5 C-42,66 -58,46 -57.7,22 C-57.5,10 -54,0 -50,-5 Q-46,-9 -43.5,-4.5Z"/><path d="M-33,-29 Q-35,-34 -31,-37 L-9,-54 Q-3,-58 0,-52 L13,-29 Q15,-26 12,-23 L-8.5,3.5 L-4,12.3 L18,-5.2 Q22,-8.3 24,-3.5 L36,24 Q38,29 34,33 L12,53 Q7,57 1,53 Q-1,52 -2,48Z"/><path d="M18,-61 L47,5 Q49,8 52,4 C58,-6 60,-22 56,-36 C52,-50 40,-61 25,-64 Q19,-65 18,-61Z"/></g><g transform="rotate(-38.9)" opacity="0.185"><text x="91" y="25.5" font-family="Liberation Sans, sans-serif" font-size="76" letter-spacing="5.4" fill="#000" stroke="#000" stroke-width="3.5" stroke-linejoin="round" stroke-linecap="round">HGTECH</text></g></g>
</svg>
<svg width="1939" height="952" viewBox="0 0 1939 952" style="z-index:6;pointer-events:none">
<defs><filter id="bl2" filterUnits="userSpaceOnUse" x="0" y="0" width="1939" height="952"><feGaussianBlur stdDeviation="0.8"/></filter></defs>
<clipPath id="cp"><rect x="1534.6" y="161.2" width="105.4" height="65.6"/></clipPath>
<g clip-path="url(#cp)"><g filter="url(#bl2)"><g transform="translate(1510,110) scale(0.13661)">
<rect x="180" y="375" width="772" height="480" fill="#d4d8db"/>
<rect x="180" y="375" width="772" height="150" fill="#e4e6e8"/>
<rect x="400" y="375" width="360" height="24" fill="#e8762c"/>
<g fill="#56607e"><rect x="318" y="380" width="14" height="170"/><rect x="400" y="385" width="14" height="160"/><rect x="478" y="400" width="16" height="140"/><rect x="560" y="400" width="16" height="140"/><rect x="655" y="395" width="18" height="150"/><rect x="755" y="385" width="16" height="160"/><rect x="868" y="380" width="16" height="200"/><rect x="925" y="380" width="12" height="220"/></g>
<g fill="#9aa2ae"><rect x="430" y="420" width="40" height="100"/><rect x="600" y="420" width="40" height="110"/><rect x="790" y="420" width="60" height="120"/></g>
<rect x="660" y="372" width="60" height="55" fill="#3f8a3a"/>
<polygon points="360,545 905,565 905,612 360,608" fill="#e4c41c"/>
<polygon points="380,575 900,590 900,612 380,608" fill="#c9a416"/>
<polygon points="395,612 952,625 952,855 720,855 395,700" fill="#8a4c2e"/>
<polygon points="395,640 952,690 952,760 395,690" fill="#7a3e26" opacity=".6"/>
<ellipse cx="745" cy="650" rx="55" ry="16" fill="#fff0d2" opacity=".85"/>
<rect x="188" y="488" width="165" height="215" fill="#2b3131"/>
<rect x="275" y="500" width="68" height="50" fill="#9fb4c2"/>
<rect x="200" y="560" width="60" height="50" fill="#59615f"/>
<polygon points="290,590 375,568 398,640 385,725 300,725 268,655" fill="#2a3a9c"/>
<polygon points="315,610 370,600 375,660 320,670" fill="#e8eaf0" opacity=".8"/>
<circle cx="346" cy="548" r="23" fill="#17191c"/>
<rect x="318" y="692" width="62" height="55" fill="#35b4c4"/><rect x="345" y="700" width="35" height="40" fill="#e8863a"/>
<polygon points="180,700 300,745 520,855 180,855" fill="#b9bdbf"/>
<polygon points="300,760 420,735 700,855 500,855" fill="#3c4040"/>
<polygon points="410,700 470,705 952,830 952,855 720,855" fill="#dfe4e8"/>
</g></g></g>
</svg>
</div></body></html>
